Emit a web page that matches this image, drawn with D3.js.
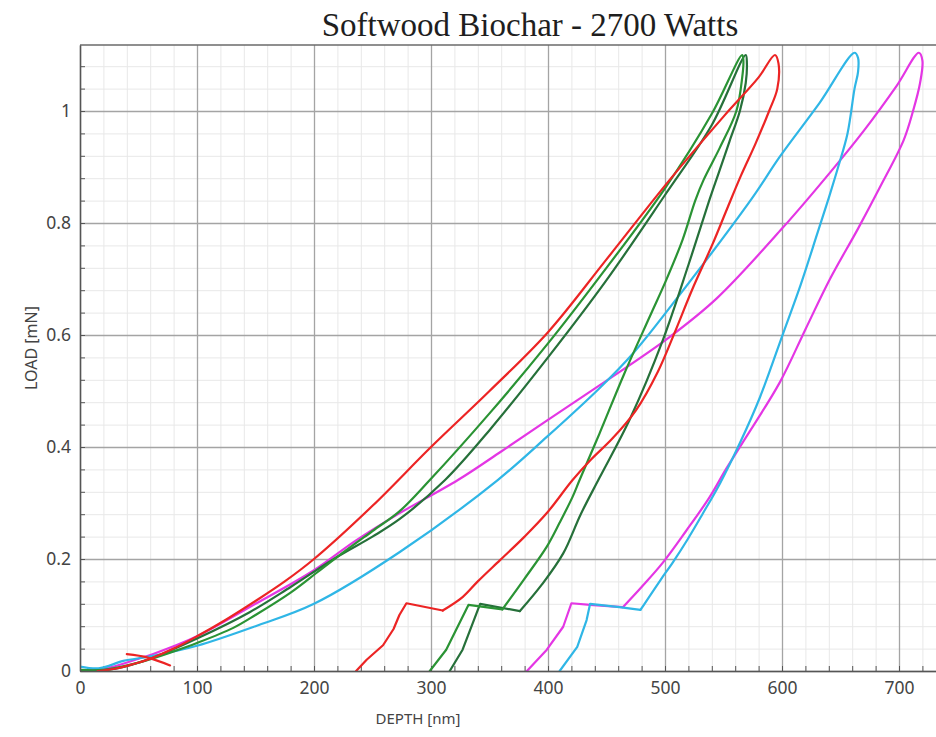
<!DOCTYPE html>
<html>
<head>
<meta charset="utf-8">
<script src="https://cdn.jsdelivr.net/npm/d3@7"></script>
<style>
  body { margin: 0; background: #fff; }
  text { font-family: "Noto Sans", "Open Sans", sans-serif; }
</style>
</head>
<body>
<div id="chart"></div>
<script>
// [depth nm, load mN] pairs
// each test: loading + unloading loop, then the hold / final drop tail
var redLoop = [[15,0],[30,0.004],[45,0.012],[60,0.022],[80,0.04],[100,0.062],[125,0.092],[150,0.125],[175,0.16],[200,0.2],
  [250,0.295],[300,0.4],[350,0.5],[400,0.605],[450,0.735],[504,0.877],[550,0.99],[580,1.06],[594,1.1],
  [597,1.085],[596,1.04],[589,1.0],[577,0.94],[565,0.885],[553,0.825],[541,0.764],[523,0.68],[508,0.603],[494,0.535],
  [475,0.465],[455,0.415],[437,0.378],[421,0.341],[399,0.282],[380,0.24],[359,0.198],[340,0.16],[327,0.132],[310,0.108]];
var redTail = [[310,0.108],[279,0.121],[273,0.1],[268,0.075],[259,0.046],[245,0.02],[236,0]];
var redContact = [[40,0.03],[58,0.024],[77,0.01]];

var cyanLoop = [[0,0.008],[17,0.005],[37,0.018],[60,0.026],[100,0.045],[150,0.08],[200,0.12],[273,0.212],[357,0.341],
  [399,0.418],[444,0.505],[473,0.568],[510,0.665],[574,0.843],[598,0.918],[632,1.014],[662,1.104],
  [665,1.095],[665,1.07],[662,1.04],[656,0.96],[648,0.9],[640,0.845],[630,0.78],[616,0.69],[601,0.603],[581,0.488],
  [564,0.407],[547,0.335],[532,0.28],[519,0.234],[507,0.195],[496,0.162],[479,0.109]];
var cyanTail = [[479,0.109],[461,0.114],[436,0.12],[433,0.091],[425,0.043],[410,0]];

var magentaLoop = [[0,0],[25,0.006],[50,0.022],[62,0.03],[100,0.062],[150,0.12],[200,0.18],[235,0.232],[270,0.278],
  [323,0.341],[360,0.392],[399,0.447],[444,0.51],[503,0.595],[544,0.665],[600,0.79],[641,0.89],[670,0.965],[698,1.045],[717,1.104],
  [720,1.09],[718,1.05],[712,1.0],[704,0.948],[684,0.865],[665,0.79],[641,0.7],[620,0.61],[598,0.515],[567,0.41],
  [552,0.36],[538,0.31],[518,0.25],[498,0.193],[480,0.15],[464,0.114]];
var magentaTail = [[464,0.114],[436,0.118],[420,0.121],[413,0.079],[399,0.038],[382,0]];

var greenLoop = [[0,0.002],[20,0.002],[50,0.015],[80,0.035],[100,0.05],[131,0.077],[150,0.1],[180,0.14],[202,0.175],
  [220,0.204],[250,0.25],[273,0.285],[299,0.341],[350,0.46],[400,0.585],[442,0.698],[500,0.862],[540,0.995],[566,1.1],
  [567,1.09],[566,1.06],[561,1.0],[547,0.935],[533,0.877],[526,0.841],[515,0.77],[501,0.698],[487,0.633],[465,0.53],
  [444,0.424],[427,0.341],[421,0.311],[410,0.265],[399,0.222],[380,0.165],[361,0.11]];
var greenTail = [[361,0.11],[332,0.118],[313,0.038],[299,0]];

var darkGreenLoop = [[0,0],[30,0.004],[60,0.022],[100,0.058],[145,0.105],[180,0.15],[220,0.204],[250,0.24],[273,0.271],
  [312,0.341],[350,0.43],[400,0.56],[450,0.698],[500,0.85],[540,0.975],[569,1.1],
  [570,1.085],[569,1.05],[564,1.0],[555,0.945],[546,0.89],[537,0.835],[520,0.725],[498,0.59],[470,0.45],[444,0.345],
  [428,0.28],[413,0.21],[395,0.155],[376,0.107]];
var darkGreenTail = [[376,0.107],[342,0.12],[327,0.038],[316,0]];

var xTicks = [0, 100, 200, 300, 400, 500, 600, 700];
var yTicks = [0, 0.2, 0.4, 0.6, 0.8, 1];
var chartTitle = "Softwood Biochar - 2700 Watts";
var xTitle = "DEPTH [nm]";
var yTitle = "LOAD [mN]";

var series = [
  { loop: magentaLoop, tail: magentaTail, color: "#e436e4" },
  { loop: cyanLoop, tail: cyanTail, color: "#2fb6e6" },
  { loop: darkGreenLoop, tail: darkGreenTail, color: "#26703a" },
  { loop: greenLoop, tail: greenTail, color: "#2a9334" },
  { loop: redLoop, tail: redTail, color: "#ec2424" },
  { loop: redContact, tail: [], color: "#ec2424" }
];

// Set up the SVG container
var svgWidth = 936;
var svgHeight = 737;
var margin = { top: 45, right: 0, bottom: 66, left: 80 };
var chartWidth = svgWidth - margin.left - margin.right;
var chartHeight = svgHeight - margin.top - margin.bottom;

var svg = d3.select("#chart")
  .append("svg")
  .attr("width", svgWidth)
  .attr("height", svgHeight)
  .style("background", "#fff");

var chart = svg.append("g")
  .attr("transform", "translate(" + margin.left + "," + margin.top + ")");

// scales: 117 px per 100 nm, 560 px per mN
var x = d3.scaleLinear().domain([0, chartWidth / 1.17]).range([0, chartWidth]);
var y = d3.scaleLinear().domain([0, chartHeight / 560]).range([chartHeight, 0]);

var xMinor = d3.range(0, x.domain()[1], 20);
var yMinor = d3.range(0, y.domain()[1], 0.04);

// minor grid
chart.append("g")
  .attr("transform", "translate(0," + chartHeight + ")")
  .call(d3.axisBottom(x).tickValues(xMinor).tickSize(-chartHeight).tickFormat(""))
  .call(function(g) { g.select(".domain").remove(); g.selectAll("line").attr("stroke", "#e8e8e8"); });
chart.append("g")
  .call(d3.axisLeft(y).tickValues(yMinor).tickSize(-chartWidth).tickFormat(""))
  .call(function(g) { g.select(".domain").remove(); g.selectAll("line").attr("stroke", "#e8e8e8"); });

// major grid
chart.append("g")
  .attr("transform", "translate(0," + chartHeight + ")")
  .call(d3.axisBottom(x).tickValues(xTicks).tickSize(-chartHeight).tickFormat(""))
  .call(function(g) { g.select(".domain").remove(); g.selectAll("line").attr("stroke", "#a4a4a4").attr("stroke-width", 1.3); });
chart.append("g")
  .call(d3.axisLeft(y).tickValues(yTicks).tickSize(-chartWidth).tickFormat(""))
  .call(function(g) { g.select(".domain").remove(); g.selectAll("line").attr("stroke", "#a4a4a4").attr("stroke-width", 1.3); });

// inner minor ticks
chart.append("g")
  .attr("transform", "translate(0," + chartHeight + ")")
  .call(d3.axisBottom(x).tickValues(xMinor).tickSize(-5).tickFormat(""))
  .call(function(g) { g.select(".domain").remove(); g.selectAll("line").attr("stroke", "#555"); });
chart.append("g")
  .call(d3.axisLeft(y).tickValues(yMinor).tickSize(-5).tickFormat(""))
  .call(function(g) { g.select(".domain").remove(); g.selectAll("line").attr("stroke", "#555"); });

// frame: top line
chart.append("line").attr("x1", 0).attr("x2", chartWidth).attr("y1", 0).attr("y2", 0)
  .attr("stroke", "#6a6a6a").attr("stroke-width", 1.5);

// curves: smooth loop, straight hold/drop tail
chart.append("clipPath").attr("id", "plotClip")
  .append("rect").attr("width", chartWidth).attr("height", chartHeight);

var smoothLine = d3.line()
  .curve(d3.curveCatmullRom.alpha(0.5))
  .x(function(d) { return x(d[0]); })
  .y(function(d) { return y(d[1]); });

var straightLine = d3.line()
  .x(function(d) { return x(d[0]); })
  .y(function(d) { return y(d[1]); });

var curves = chart.append("g")
  .attr("clip-path", "url(#plotClip)")
  .attr("fill", "none")
  .attr("stroke-width", 2.2)
  .attr("stroke-linejoin", "round")
  .attr("stroke-linecap", "round");

series.forEach(function(s) {
  curves.append("path")
    .attr("d", smoothLine(s.loop))
    .attr("stroke", s.color);
  if (s.tail.length) {
    curves.append("path")
      .attr("d", straightLine(s.tail))
      .attr("stroke", s.color);
  }
});

// axes with labels
chart.append("g")
  .attr("transform", "translate(0," + chartHeight + ")")
  .call(d3.axisBottom(x).tickValues(xTicks).tickSize(0).tickPadding(11))
  .call(function(g) {
    g.select(".domain").attr("stroke", "#555").attr("stroke-width", 1.5);
    g.selectAll("text").attr("fill", "#444").style("font-size", "17.5px");
  });

chart.append("g")
  .call(d3.axisLeft(y).tickValues(yTicks).tickSize(0).tickPadding(9).tickFormat(function(d) { return String(d); }))
  .call(function(g) {
    g.select(".domain").attr("stroke", "#555").attr("stroke-width", 1.5);
    g.selectAll("text").attr("fill", "#444").style("font-size", "17.5px");
  });

// axis titles
svg.append("text")
  .attr("x", 418)
  .attr("y", 724)
  .attr("text-anchor", "middle")
  .attr("fill", "#444")
  .style("font-size", "15px")
  .text(xTitle);

svg.append("text")
  .attr("transform", "translate(37,348) rotate(-90)")
  .attr("text-anchor", "middle")
  .attr("fill", "#444")
  .style("font-size", "16px")
  .text(yTitle);

// chart title
svg.append("text")
  .attr("x", 530)
  .attr("y", 36)
  .attr("text-anchor", "middle")
  .attr("fill", "#1e1e1e")
  .style("font-family", "'Liberation Serif', 'Times New Roman', serif")
  .style("font-size", "33px")
  .text(chartTitle);
</script>
</body>
</html>
